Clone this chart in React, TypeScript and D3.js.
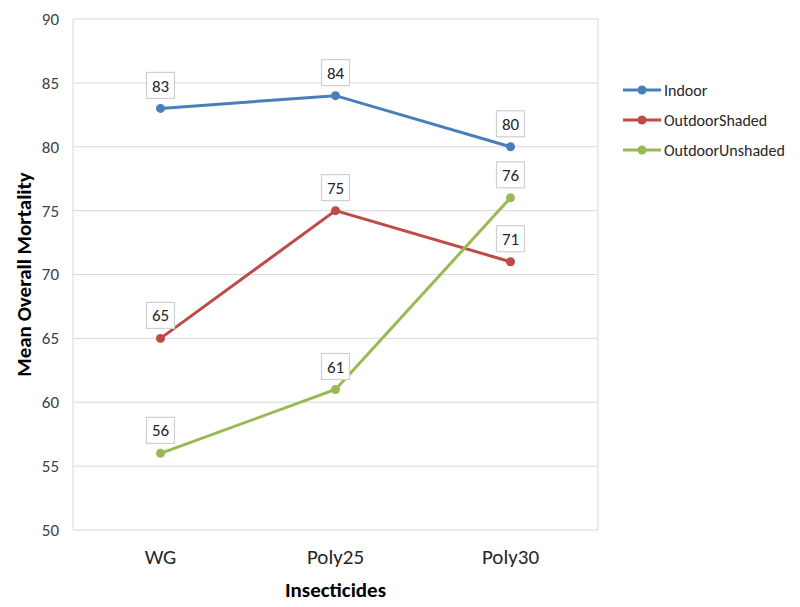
import React from "react";
import * as d3 from "d3";

const categories = ["WG", "Poly25", "Poly30"];
const seriesNames = ["Indoor", "OutdoorShaded", "OutdoorUnshaded"];
const indoor = [83, 84, 80];
const outdoorShaded = [65, 75, 71];
const outdoorUnshaded = [56, 61, 76];
const yTicks = [50, 55, 60, 65, 70, 75, 80, 85, 90];
const colors = ["#4a7ebb", "#be4b48", "#98b954"];

const W = 800, H = 607;
const M = { left: 73, right: 598, top: 19, bottom: 530 };
const font = "Carlito, 'Noto Sans', 'Open Sans', sans-serif";

export default function App() {
  const x = d3.scalePoint<string>().domain(categories).range([M.left, M.right]).padding(0.5);
  const y = d3.scaleLinear().domain([50, 90]).range([M.bottom, M.top]);
  const data = [indoor, outdoorShaded, outdoorUnshaded];
  const line = d3.line<number>().x((_, i) => x(categories[i])!).y(d => y(d));

  return (
    <svg width={W} height={H} style={{ position: "absolute", left: 0, top: 0, background: "#fff" }} fontFamily={font}>
      <rect x={0} y={0} width={W} height={H} fill="#fff" />
      {yTicks.map(t => (
        <g key={t}>
          <line x1={M.left} x2={M.right} y1={y(t)} y2={y(t)} stroke="#d9d9d9" strokeWidth={1} />
          <text x={M.left - 14} y={y(t)} dy="0.35em" textAnchor="end" fontSize={17} fill="#404040">{t}</text>
        </g>
      ))}
      <line x1={M.left} x2={M.left} y1={M.top} y2={M.bottom} stroke="#d9d9d9" />
      <line x1={M.right} x2={M.right} y1={M.top} y2={M.bottom} stroke="#d9d9d9" />
      {categories.map(c => (
        <text key={c} x={x(c)} y={564} textAnchor="middle" fontSize={21} fill="#262626">{c}</text>
      ))}
      {data.map((s, si) => (
        <g key={si}>
          <path d={line(s)!} fill="none" stroke={colors[si]} strokeWidth={3} />
          {s.map((v, i) => (
            <circle key={i} cx={x(categories[i])} cy={y(v)} r={4.5} fill={colors[si]} />
          ))}
        </g>
      ))}
      {data.map((s, si) =>
        s.map((v, i) => {
          const cx = x(categories[i])!;
          const cy = y(v) - 23;
          return (
            <g key={`${si}-${i}`}>
              <rect x={cx - 14} y={cy - 13} width={28} height={26} fill="#fff" stroke="#d0d0d0" strokeWidth={1.2} />
              <text x={cx} y={cy} dy="0.36em" textAnchor="middle" fontSize={17} fill="#262626">{v}</text>
            </g>
          );
        })
      )}
      {seriesNames.map((n, i) => (
        <g key={n} transform={`translate(623, ${90 + i * 30})`}>
          <line x1={0} x2={38} y1={0} y2={0} stroke={colors[i]} strokeWidth={3} />
          <circle cx={19} cy={0} r={4.5} fill={colors[i]} />
          <text x={41} y={0} dy="0.35em" fontSize={16} fill="#262626">{n}</text>
        </g>
      ))}
      <text x={(M.left + M.right) / 2} y={597} textAnchor="middle" fontSize={21} fontWeight="bold" fill="#000">Insecticides</text>
      <text transform={`translate(31, ${(M.top + M.bottom) / 2}) rotate(-90)`} textAnchor="middle" fontSize={21} fontWeight="bold" fill="#000">Mean Overall Mortality</text>
    </svg>
  );
}
